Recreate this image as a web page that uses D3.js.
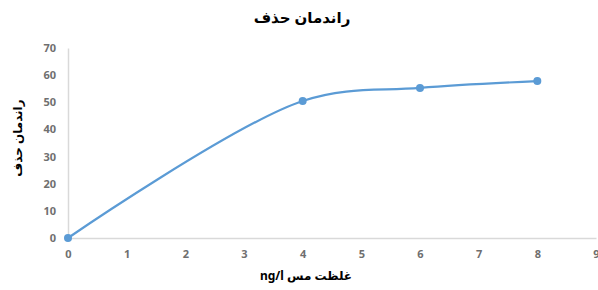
<!DOCTYPE html>
<html>
<head>
<meta charset="utf-8">
<script src="https://cdn.jsdelivr.net/npm/d3@7"></script>
<style>
  body { margin: 0; background: #fff; }
  text { font-family: "Noto Sans", "DejaVu Sans", sans-serif; }
</style>
</head>
<body>
<div id="chart"></div>
<script>
let concentration = [0, 4, 6, 8];
let removal = [0, 50.5, 55.3, 57.8];
let xTicks = [0, 1, 2, 3, 4, 5, 6, 7, 8, 9];
let yTicks = [0, 10, 20, 30, 40, 50, 60, 70];

let margin = { top: 48, right: 2, bottom: 52, left: 68 },
    width = 598 - margin.left - margin.right,
    height = 290 - margin.top - margin.bottom;

let svg = d3.select("#chart")
    .append("svg")
    .attr("width", 598)
    .attr("height", 290);

let g = svg.append("g")
    .attr("transform", "translate(" + margin.left + "," + margin.top + ")");

let x = d3.scaleLinear().domain([0, 9]).range([0, width]);
let y = d3.scaleLinear().domain([0, 70]).range([height, 0]);

// axes
let xAxis = g.append("g")
    .attr("transform", "translate(0," + height + ")")
    .call(d3.axisBottom(x).tickValues(xTicks).tickSize(0).tickPadding(12));
let yAxis = g.append("g")
    .call(d3.axisLeft(y).tickValues(yTicks).tickSize(0).tickPadding(12));

[xAxis, yAxis].forEach(function (a) {
    a.select(".domain").attr("stroke", "#d9d9d9").attr("stroke-width", 1.5);
    a.selectAll("text")
        .attr("fill", "#6f6f6f")
        .attr("font-size", "11px")
        .attr("font-weight", "bold");
});

let line = d3.line()
    .x(function (d, i) { return x(concentration[i]); })
    .y(function (d) { return y(d); })
    .curve(d3.curveCatmullRom.alpha(0.5));

g.append("path")
    .datum(removal)
    .attr("d", line)
    .attr("fill", "none")
    .attr("stroke", "#5b9bd5")
    .attr("stroke-width", 2.2);

g.selectAll("circle")
    .data(removal)
    .enter()
    .append("circle")
    .attr("cx", function (d, i) { return x(concentration[i]); })
    .attr("cy", function (d) { return y(d); })
    .attr("r", 4)
    .attr("fill", "#5b9bd5");

// titles
svg.append("text")
    .attr("x", 302)
    .attr("y", 23)
    .attr("text-anchor", "middle")
    .attr("font-size", "15px")
    .attr("font-weight", "bold")
    .attr("fill", "#000")
    .text("راندمان حذف");

svg.append("text")
    .attr("transform", "translate(22,138) rotate(-90)")
    .attr("text-anchor", "middle")
    .attr("font-size", "12px")
    .attr("font-weight", "bold")
    .attr("fill", "#000")
    .text("راندمان حذف");

svg.append("text")
    .attr("x", 306)
    .attr("y", 280)
    .attr("text-anchor", "middle")
    .attr("direction", "rtl")
    .attr("font-size", "12px")
    .attr("font-weight", "bold")
    .attr("fill", "#000")
    .text("غلظت مس ng/l");
</script>
</body>
</html>
